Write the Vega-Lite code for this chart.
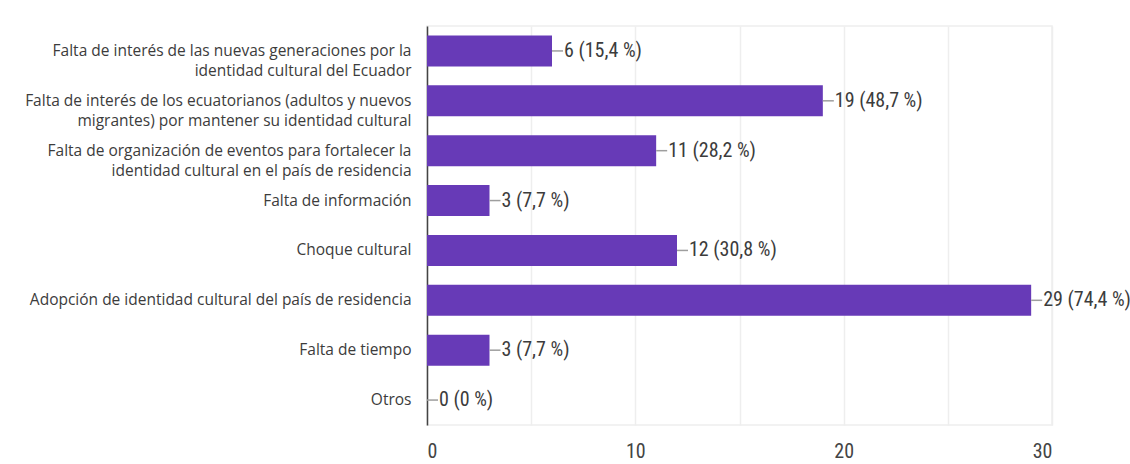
{
  "$schema": "https://vega.github.io/schema/vega-lite/v6.json",
  "autosize": {"type": "none"},
  "padding": {"left": 427, "top": 26, "right": 78, "bottom": 39},
  "width": 625,
  "height": 399,
  "background": "white",
  "config": {
    "view": {"stroke": "#eeeeee", "strokeWidth": 1.5}
  },
  "data": {
    "values": [
      {"cat": "Falta de interés de las nuevas generaciones por la|identidad cultural del Ecuador", "n": 6, "lbl": "6 (15,4 %)"},
      {"cat": "Falta de interés de los ecuatorianos (adultos y nuevos|migrantes) por mantener su identidad cultural", "n": 19, "lbl": "19 (48,7 %)"},
      {"cat": "Falta de organización de eventos para fortalecer la|identidad cultural en el país de residencia", "n": 11, "lbl": "11 (28,2 %)"},
      {"cat": "Falta de información", "n": 3, "lbl": "3 (7,7 %)"},
      {"cat": "Choque cultural", "n": 12, "lbl": "12 (30,8 %)"},
      {"cat": "Adopción de identidad cultural del país de residencia", "n": 29, "lbl": "29 (74,4 %)"},
      {"cat": "Falta de tiempo", "n": 3, "lbl": "3 (7,7 %)"},
      {"cat": "Otros", "n": 0, "lbl": "0 (0 %)"}
    ]
  },
  "encoding": {
    "y": {
      "field": "cat",
      "type": "nominal",
      "sort": null,
      "scale": {"paddingInner": 0.38, "paddingOuter": 0.19},
      "axis": {
        "title": null,
        "labelExpr": "split(datum.label, '|')",
        "labelFont": "Open Sans",
        "labelFontSize": 15.5,
        "labelColor": "#3c3c3c",
        "labelLimit": 420,
        "labelLineHeight": 20,
        "labelPadding": 16,
        "ticks": false,
        "domainColor": "#444444",
        "domainWidth": 1.5
      }
    }
  },
  "layer": [
    {
      "mark": {"type": "bar", "color": "#673ab7"},
      "encoding": {
        "x": {
          "field": "n",
          "type": "quantitative",
          "scale": {"domain": [0, 30], "nice": false},
          "axis": {
            "title": null,
            "values": [0, 5, 10, 15, 20, 25, 30],
            "labelExpr": "datum.value % 10 === 0 ? datum.label : ''",
            "labelFont": "Roboto Condensed, Roboto",
            "labelFontSize": 20,
            "labelColor": "#444444",
            "labelPadding": 16,
            "ticks": false,
            "domain": false,
            "gridColor": "#eeeeee",
            "gridWidth": 1.5
          }
        }
      }
    },
    {
      "mark": {"type": "rule", "color": "#9e9e9e", "strokeWidth": 1.5, "x2Offset": 11},
      "encoding": {
        "x": {"field": "n", "type": "quantitative"},
        "x2": {"field": "n"}
      }
    },
    {
      "mark": {"type": "text", "align": "left", "dx": 12, "font": "Roboto Condensed, Roboto", "fontSize": 20, "color": "#3c3c3c"},
      "encoding": {
        "x": {"field": "n", "type": "quantitative"},
        "text": {"field": "lbl"}
      }
    }
  ]
}
